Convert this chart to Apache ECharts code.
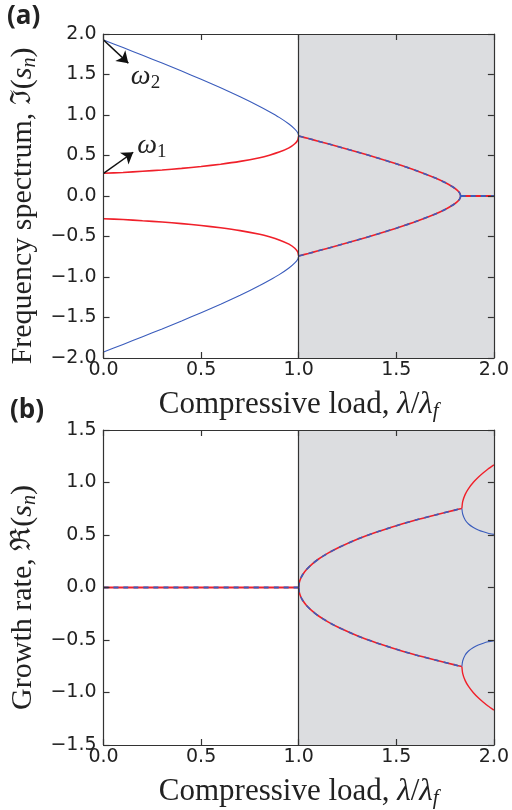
<!DOCTYPE html>
<html><head><meta charset="utf-8">
<script src="https://cdn.jsdelivr.net/npm/echarts@6/dist/echarts.min.js"></script>
<style>html,body{margin:0;padding:0;background:#fff}#c{width:512px;height:810px}</style>
</head><body><div id="c"></div>
<script>
// ---- data ----
const xTickStep = 0.5;
// panel (a): imaginary part (frequency spectrum)
const aLeftX   = [0, 0.1, 0.2, 0.3, 0.4, 0.5, 0.6, 0.7, 0.8, 0.85, 0.9, 0.95, 0.98, 0.995, 1.0];
const aOmega2  = [1.926, 1.832, 1.737, 1.641, 1.542, 1.440, 1.335, 1.224, 1.106, 1.041, 0.971, 0.889, 0.826, 0.780, 0.74];
const aOmega1  = [0.28, 0.291, 0.306, 0.321, 0.341, 0.364, 0.392, 0.427, 0.473, 0.504, 0.542, 0.594, 0.645, 0.691, 0.74];
const aRightX  = [1.0, 1.05, 1.1, 1.2, 1.3, 1.4, 1.5, 1.6, 1.7, 1.75, 1.79, 1.81, 1.825, 1.83];
const aRightIm = [0.74, 0.709, 0.677, 0.612, 0.544, 0.473, 0.397, 0.316, 0.222, 0.166, 0.111, 0.076, 0.036, 0];
const aFlatX   = [1.83, 2.0];
const aFlatIm  = [0, 0];
// panel (b): real part (growth rate)
const bZeroX   = [0, 1.0];
const bZeroRe  = [0, 0];
const bMidX    = [1.0, 1.003, 1.01, 1.02, 1.04, 1.07, 1.1, 1.15, 1.2, 1.3, 1.4, 1.5, 1.6, 1.7, 1.8, 1.836];
const bMidRe   = [0, 0.047, 0.086, 0.122, 0.171, 0.225, 0.269, 0.327, 0.377, 0.46, 0.528, 0.588, 0.643, 0.691, 0.737, 0.753];
const bSplitX    = [1.836, 1.84, 1.853, 1.87, 1.895, 1.92, 1.946, 1.97, 2.0];
const bSplitRed  = [0.753, 0.818, 0.887, 0.942, 1.002, 1.05, 1.093, 1.129, 1.168];
const bSplitBlue = [0.753, 0.70, 0.643, 0.605, 0.572, 0.548, 0.530, 0.517, 0.506];
// shaded region and annotations
const shadeRange = [1.0, 2.0];
const arrow2 = [[0, 1.926], [0.127, 1.64]];
const arrow1 = [[0, 0.28], [0.152, 0.54]];
const label2Pos = [0.215, 1.47];
const label1Pos = [0.248, 0.62];

// ---- helpers ----
const BLUE = '#3a5cbc', RED = '#f0202a';
const pts = (xs, ys, sign) => xs.map((x, i) => [x, (sign || 1) * ys[i]]);
const fmt = v => (v < 0 ? '\u2212' : '') + Math.abs(v).toFixed(1);
const SERIF = '"Liberation Serif", "DejaVu Serif", serif';
const mkRich = fs => ({
  i: { fontFamily: SERIF, fontStyle: 'italic', fontSize: fs, color: '#222' },
  sub: { fontFamily: SERIF, fontStyle: 'italic', fontSize: Math.round(fs * 0.68), color: '#222', verticalAlign: 'bottom', padding: [Math.round(fs * 0.42), 0, 0, 0] },
  d: { fontFamily: SERIF, fontSize: Math.round(fs * 0.68), color: '#222', verticalAlign: 'bottom', padding: [Math.round(fs * 0.42), 0, 0, 0] },
  f: { fontFamily: 'DejaVu Serif, serif', fontSize: Math.round(fs * 0.92), color: '#222' }
});

const grids = [
  { left: 100, top: 34, width: 394, height: 324 },
  { left: 100, top: 430, width: 394, height: 324 }
];

const xAxes = [], yAxes = [];
[[-2, 2, 'Frequency spectrum, {f|ℑ}({i|s}{sub|n})'], [-1.5, 1.5, 'Growth rate, {f|ℜ}({i|s}{sub|n})']].forEach((cfg, g) => {
  const axisLine = { show: true, onZero: false, lineStyle: { color: '#333', width: 1.2 } };
  const tick = { show: true, inside: true, length: 6, lineStyle: { color: '#333', width: 1.2 } };
  xAxes.push({
    type: 'value', gridIndex: g, min: 0, max: 2, interval: xTickStep, position: 'bottom', z: 10,
    axisLine, axisTick: tick, splitLine: { show: false },
    axisLabel: { formatter: fmt, fontFamily: 'DejaVu Sans', fontSize: 19, color: '#222', margin: 3 },
    name: 'Compressive load, {i|λ}/{i|λ}{sub|f}', nameLocation: 'middle', nameGap: 30,
    nameTextStyle: { fontFamily: SERIF, fontSize: 31, color: '#222', rich: mkRich(31) }
  });
  xAxes.push({
    type: 'value', gridIndex: g, min: 0, max: 2, interval: xTickStep, position: 'top', z: 10,
    axisLine, axisTick: tick, splitLine: { show: false }, axisLabel: { show: false }
  });
  yAxes.push({
    type: 'value', gridIndex: g, min: cfg[0], max: cfg[1], interval: 0.5, position: 'left', z: 10,
    axisLine, axisTick: tick, splitLine: { show: false },
    axisLabel: { formatter: fmt, fontFamily: 'DejaVu Sans', fontSize: 19, color: '#222', margin: 7 },
    name: cfg[2], nameLocation: 'middle', nameGap: 64, nameRotate: 90,
    nameTextStyle: { fontFamily: SERIF, fontSize: 30, color: '#222', rich: mkRich(30), padding: [0, 20, 0, 0] }
  });
  yAxes.push({
    type: 'value', gridIndex: g, min: cfg[0], max: cfg[1], interval: 0.5, position: 'right', z: 10,
    axisLine, axisTick: tick, splitLine: { show: false }, axisLabel: { show: false }
  });
});

function L(name, data, g, color, width, dashed, z) {
  return {
    type: 'line', name, data, xAxisIndex: g * 2, yAxisIndex: g * 2,
    showSymbol: false, symbol: 'none', smooth: 0.2, z: z || 3,
    lineStyle: { color, width, type: dashed ? [5, 5] : 'solid' },
    animation: false, silent: true
  };
}

const series = [];
[0, 1].forEach(g => {
  series.push({
    type: 'line', data: [], xAxisIndex: g * 2, yAxisIndex: g * 2, z: 1, silent: true, animation: false,
    markArea: { silent: true, itemStyle: { color: '#dcdde0' }, data: [[{ xAxis: shadeRange[0] }, { xAxis: shadeRange[1] }]] },
    markLine: { silent: true, symbol: 'none', label: { show: false }, lineStyle: { color: '#333', width: 1.2, type: 'solid' }, data: [{ xAxis: shadeRange[0] }] }
  });
});
// panel (a)
[1, -1].forEach(sg => {
  series.push(L('w2', pts(aLeftX, aOmega2, sg), 0, BLUE, 1.1, false));
  series.push(L('w1', pts(aLeftX, aOmega1, sg), 0, RED, 1.6, false));
  series.push(L('r', pts(aRightX, aRightIm, sg), 0, RED, 1.6, false));
  series.push(L('b', pts(aRightX, aRightIm, sg), 0, BLUE, 1.6, true, 4));
});
series.push(L('r0', pts(aFlatX, aFlatIm), 0, RED, 1.8, false));
series.push(L('b0', pts(aFlatX, aFlatIm), 0, BLUE, 1.8, true, 4));
// panel (b)
series.push(L('r0', pts(bZeroX, bZeroRe), 1, RED, 1.8, false));
series.push(L('b0', pts(bZeroX, bZeroRe), 1, BLUE, 1.8, true, 4));
[1, -1].forEach(sg => {
  series.push(L('rm', pts(bMidX, bMidRe, sg), 1, RED, 1.6, false));
  series.push(L('bm', pts(bMidX, bMidRe, sg), 1, BLUE, 1.6, true, 4));
  series.push(L('rs', pts(bSplitX, bSplitRed, sg), 1, RED, 1.4, false));
  series.push(L('bs', pts(bSplitX, bSplitBlue, sg), 1, BLUE, 1.1, false));
});
// annotations
const wRich = mkRich(28);
series.push({
  type: 'line', data: [], xAxisIndex: 0, yAxisIndex: 0, z: 6, silent: true, animation: false,
  markLine: {
    silent: true, symbol: ['none', 'arrow'], symbolSize: 11, label: { show: false },
    lineStyle: { color: '#111', width: 1.5, type: 'solid' },
    data: [
      [{ coord: arrow2[0] }, { coord: arrow2[1] }],
      [{ coord: arrow1[0] }, { coord: arrow1[1] }]
    ]
  },
  markPoint: {
    silent: true, symbol: 'circle', symbolSize: 1, itemStyle: { color: 'rgba(0,0,0,0)' },
    label: { show: true, position: 'inside', rich: wRich },
    data: [
      { coord: label2Pos, label: { formatter: '{i|ω}{d|2}' } },
      { coord: label1Pos, label: { formatter: '{i|ω}{d|1}' } }
    ]
  }
});

const chart = echarts.init(document.getElementById('c'), null, { renderer: 'canvas' });
chart.setOption({
  backgroundColor: '#fff',
  animation: false,
  grid: grids,
  xAxis: xAxes,
  yAxis: yAxes,
  series,
  graphic: [
    { type: 'text', left: 7, top: 4, style: { text: '(a)', font: 'bold 26px "Open Sans", "DejaVu Sans", sans-serif', fill: '#222' } },
    { type: 'text', left: 10, top: 398, style: { text: '(b)', font: 'bold 26px "Open Sans", "DejaVu Sans", sans-serif', fill: '#222' } }
  ]
});
</script></body></html>
